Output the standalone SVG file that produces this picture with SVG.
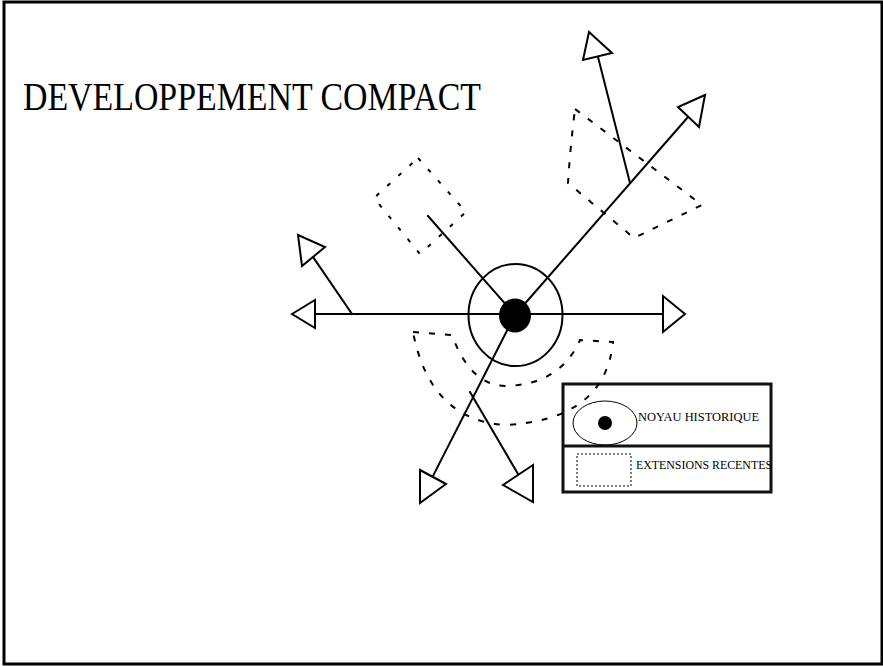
<svg xmlns="http://www.w3.org/2000/svg" width="883" height="666" viewBox="0 0 883 666">
  <style>
    .line { stroke: #000; stroke-width: 2; fill: none; stroke-linecap: square; }
    .head { stroke: #000; stroke-width: 2; fill: #fff; stroke-linejoin: miter; }
    .zone { stroke: #000; stroke-width: 2; fill: none; stroke-dasharray: 6 10; }
    .zone-small { stroke: #000; stroke-width: 2; fill: none; stroke-dasharray: 4 11; }
    .serif { font-family: "Liberation Serif", "Times New Roman", serif; fill: #000; }
  </style>

  <!-- page frame -->
  <rect x="4" y="2" width="878" height="662" fill="#fff" stroke="#000" stroke-width="3"/>

  <!-- heading -->
  <text class="serif" x="23" y="110" font-size="40" textLength="458" lengthAdjust="spacingAndGlyphs" fill="#1a1a1a">DEVELOPPEMENT COMPACT</text>

  <!-- legend -->
  <g id="legend">
    <rect x="563" y="384" width="208" height="108" fill="none" stroke="#111" stroke-width="3"/>
    <line x1="563" y1="446" x2="771" y2="446" stroke="#111" stroke-width="3"/>
    <ellipse cx="605" cy="423" rx="32" ry="22" fill="none" stroke="#000" stroke-width="1"/>
    <circle cx="605" cy="423" r="7" fill="#000"/>
    <text class="serif" x="638" y="421" font-size="12" textLength="121" lengthAdjust="spacingAndGlyphs">NOYAU HISTORIQUE</text>
    <rect x="577" y="454" width="54" height="32" fill="none" stroke="#000" stroke-width="1" stroke-dasharray="2 2"/>
    <text class="serif" x="636" y="469" font-size="12" textLength="136" lengthAdjust="spacingAndGlyphs">EXTENSIONS RECENTES</text>
  </g>

  <!-- recent extensions (dashed outlines) -->
  <g id="extension-nw">
    <polygon class="zone-small" points="418,158 466,212 420,254 374,198"/>
  </g>
  <g id="extension-ne">
    <path class="zone" d="M575,109 L702,205 L634,238 L568,183 Q570,150 575,109 Z"/>
  </g>
  <g id="extension-s">
    <path class="zone" d="M413,332 L452,335 Q470,385 505,386 Q560,385 580,340 L613,342 Q605,420 505,425 Q430,420 413,332 Z"/>
  </g>

  <!-- growth axes -->
  <g id="connectors">
    <line class="line" x1="315" y1="314" x2="663" y2="314"/>
    <polygon class="head" points="292,314 315,300 315,328"/>
    <polygon class="head" points="685,314 663,296 663,332"/>

    <line class="line" x1="352" y1="314" x2="313" y2="257"/>
    <polygon class="head" points="298,235 325,247 302,266"/>

    <line class="line" x1="515" y1="315" x2="428" y2="216"/>

    <line class="line" x1="515" y1="315" x2="688" y2="117"/>
    <polygon class="head" points="705,95 678,107 699,127"/>

    <line class="line" x1="630" y1="183" x2="598" y2="57"/>
    <polygon class="head" points="589,32 612,53 583,60"/>

    <line class="line" x1="515" y1="315" x2="433" y2="476"/>
    <polygon class="head" points="420,470 446,484 420,503"/>

    <line class="line" x1="470" y1="392" x2="518" y2="474"/>
    <polygon class="head" points="533,465 503,485 533,502"/>
  </g>

  <!-- historic core -->
  <g id="core">
    <ellipse cx="515.5" cy="315" rx="47" ry="51" fill="none" stroke="#000" stroke-width="2"/>
    <ellipse cx="515" cy="315.5" rx="16" ry="17" fill="#000"/>
  </g>
</svg>
